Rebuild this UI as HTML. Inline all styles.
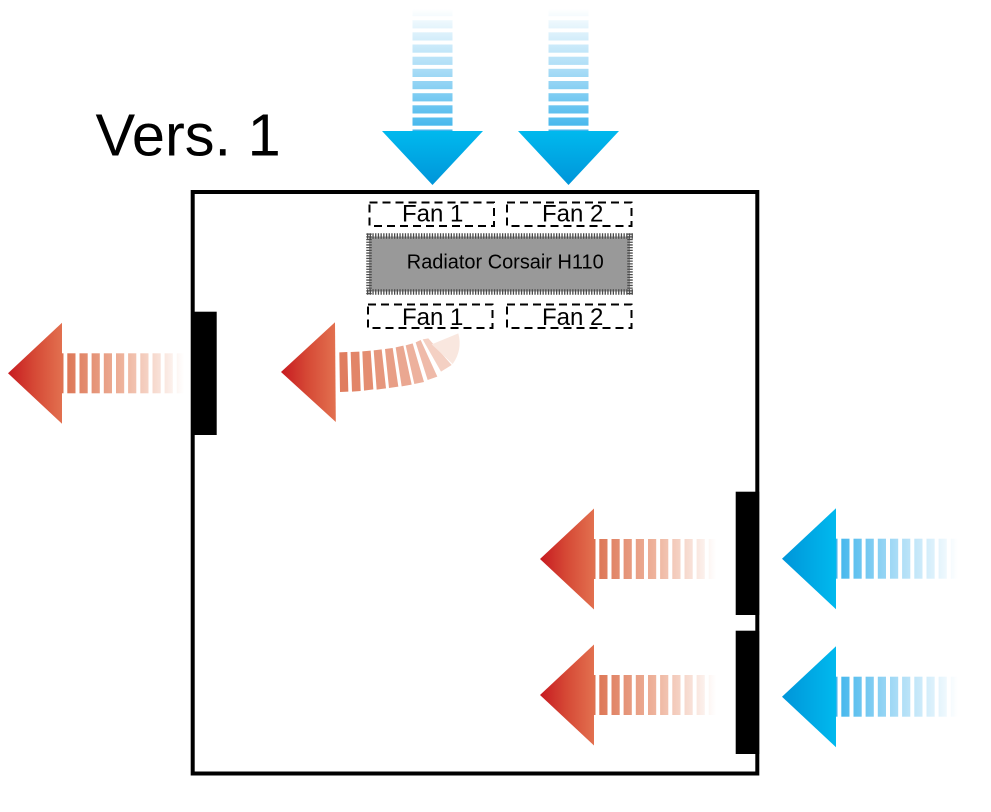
<!DOCTYPE html>
<html>
<head>
<meta charset="utf-8">
<style>
html,body{margin:0;padding:0;background:#fff;width:991px;height:812px;overflow:hidden}
svg{display:block}
text{font-family:"Liberation Sans",Arial,sans-serif;fill:#000}
</style>
</head>
<body>
<svg width="991" height="812" viewBox="0 0 991 812" xmlns="http://www.w3.org/2000/svg">
<defs>
<linearGradient id="rh" gradientUnits="userSpaceOnUse" x1="0" y1="0" x2="54" y2="0">
<stop offset="0" stop-color="#c71a20"/><stop offset=".5" stop-color="#d64a36"/><stop offset="1" stop-color="#e2704f"/>
</linearGradient>
<linearGradient id="rs" gradientUnits="userSpaceOnUse" x1="54" y1="0" x2="176" y2="0">
<stop offset="0" stop-color="#dc7251"/><stop offset=".5" stop-color="#eeb39c"/><stop offset="1" stop-color="#ffffff"/>
</linearGradient>
<linearGradient id="bh" gradientUnits="userSpaceOnUse" x1="0" y1="0" x2="54" y2="0">
<stop offset="0" stop-color="#0095d9"/><stop offset="1" stop-color="#00b9ee"/>
</linearGradient>
<linearGradient id="bs" gradientUnits="userSpaceOnUse" x1="54" y1="0" x2="176" y2="0">
<stop offset="0" stop-color="#3fb5ec"/><stop offset=".5" stop-color="#a9dcf6"/><stop offset="1" stop-color="#ffffff"/>
</linearGradient>
<g id="stem">
<rect x="54" y="-20" width="1.5" height="40"/>
<rect x="59.3" y="-20" width="8.2" height="40"/>
<rect x="71.5" y="-20" width="8.2" height="40"/>
<rect x="83.6" y="-20" width="8.2" height="40"/>
<rect x="95.8" y="-20" width="8.2" height="40"/>
<rect x="108" y="-20" width="8.2" height="40"/>
<rect x="120.1" y="-20" width="8.2" height="40"/>
<rect x="132.3" y="-20" width="8.2" height="40"/>
<rect x="144.5" y="-20" width="8.2" height="40"/>
<rect x="156.6" y="-20" width="8.2" height="40"/>
<rect x="168.8" y="-20" width="8.2" height="40"/>
</g>
<g id="red"><use href="#stem" fill="url(#rs)"/><polygon points="0,0 54,-50.5 54,50.5" fill="url(#rh)"/></g>
<g id="blue"><use href="#stem" fill="url(#bs)"/><polygon points="0,0 54,-50.5 54,50.5" fill="url(#bh)"/></g>
</defs>

<!-- enclosure -->
<rect x="192.7" y="192" width="564.6" height="581.5" fill="#fff" stroke="#000" stroke-width="4"/>
<rect x="191" y="311.7" width="25.7" height="123.3" fill="#000"/>
<rect x="735.7" y="491.7" width="23.5" height="123.3" fill="#000"/>
<rect x="735.7" y="630.7" width="23.5" height="123.3" fill="#000"/>

<!-- title -->
<text x="95.5" y="155.5" font-size="59.5">Vers. 1</text>

<!-- intake down arrows -->
<use href="#blue" transform="translate(432.5,185) rotate(-90)"/>
<use href="#blue" transform="translate(568.5,185) rotate(-90)"/>

<!-- dashed fans -->
<g fill="none" stroke="#000" stroke-width="2" stroke-dasharray="8 5">
<rect x="369.5" y="202.5" width="124.5" height="23.5"/>
<rect x="507" y="202.5" width="124.5" height="23.5"/>
<rect x="368" y="304.5" width="124.5" height="23.5"/>
<rect x="507" y="304.5" width="124.5" height="23.5"/>
</g>
<text x="402" y="221.5" font-size="24">Fan 1</text>
<text x="542" y="221.5" font-size="24">Fan 2</text>
<text x="402" y="325" font-size="24">Fan 1</text>
<text x="542" y="325" font-size="24">Fan 2</text>

<!-- radiator -->
<rect x="369" y="236.5" width="261" height="55" fill="#999"/>
<g stroke="#4a4a4a" stroke-width="5.5" stroke-dasharray="1.3 1.4" fill="none">
<line x1="367" y1="236" x2="633" y2="236"/>
<line x1="367" y1="292" x2="633" y2="292"/>
<line x1="369" y1="233.5" x2="369" y2="294.5"/>
<line x1="630" y1="233.5" x2="630" y2="294.5"/>
</g>
<text x="406.8" y="268.3" font-size="19.95">Radiator Corsair H110</text>

<!-- exhaust arrows -->
<use href="#red" transform="translate(8,373.3)"/>
<use href="#red" transform="translate(540,559)"/>
<use href="#red" transform="translate(540,695)"/>
<use href="#blue" transform="translate(782,558.7)"/>
<use href="#blue" transform="translate(782,696.7)"/>

<!-- curved exhaust -->
<polygon points="0,0 54,-49.7 54.8,50" fill="url(#rh)" transform="translate(281,372)"/>
<g transform="translate(330,320) scale(.33333)">
<polygon points="28,97 52,96 55,215 30,216" fill="#e07d5f"/>
<polygon points="62,96 88,95 92,213 66,215" fill="#e28568"/>
<polygon points="97,94 122,92 130,208 102,212" fill="#e48d71"/>
<polygon points="131,91 155,88 168,205 140,209" fill="#e6967c"/>
<polygon points="165,87 188,84 205,200 177,204" fill="#e89e86"/>
<polygon points="197,82 220,77 245,194 215,199" fill="#eaa791"/>
<polygon points="227,76 248,70 282,186 253,192" fill="#edb19d"/>
<polygon points="257,67 272,60 322,170 293,180" fill="#efbaa9"/>
<polygon points="278,58 295,55 365,135 333,155" fill="#f4d0c3"/>
<path d="M305,73 L385,40 Q398,90 368,132 Z" fill="#f9e7df"/>
</g>
</svg>
</body>
</html>
